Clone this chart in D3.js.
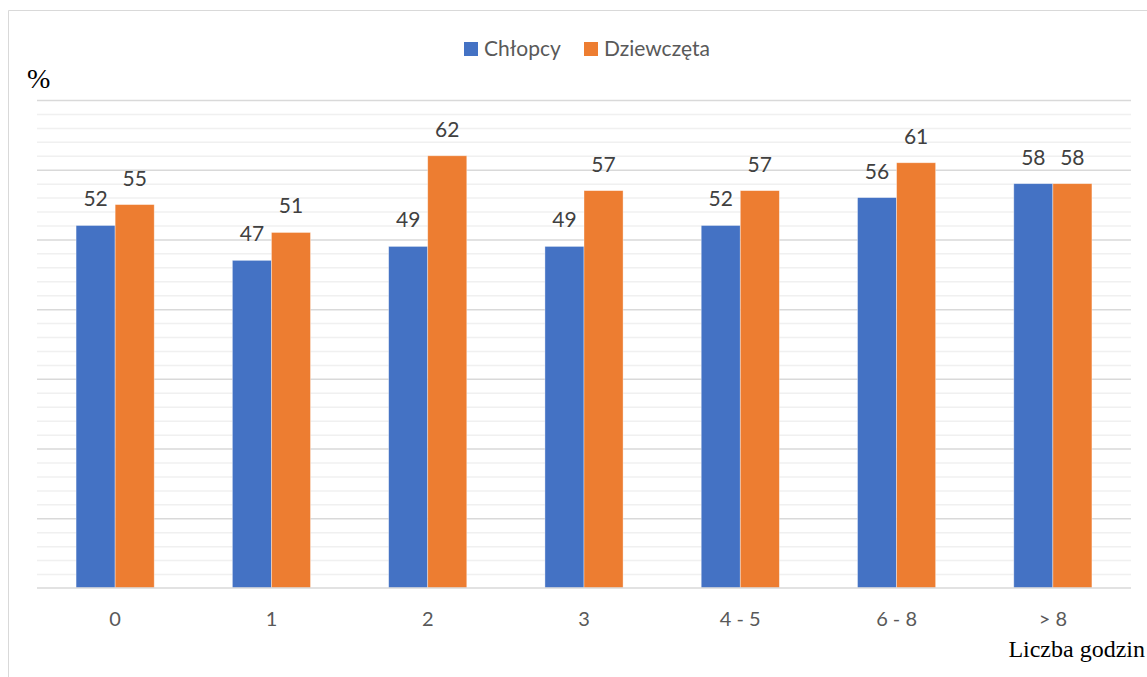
<!DOCTYPE html>
<html>
<head>
<meta charset="utf-8">
<script src="https://cdn.jsdelivr.net/npm/d3@7"></script>
<style>
  html, body { margin: 0; padding: 0; background: #fff; }
  svg { display: block; }
</style>
</head>
<body>
<svg id="chart" width="1147" height="677"></svg>
<script>
// Hours categories and percentages per group
const categories = ["0", "1", "2", "3", "4 - 5", "6 - 8", "> 8"];
const seriesNames = ["Chłopcy", "Dziewczęta"];
const boys = [52, 47, 49, 49, 52, 56, 58];
const girls = [55, 51, 62, 57, 57, 61, 58];
const seriesColors = ["#4472C4", "#ED7D31"];
const yMax = 70;

const sans = "Lato, 'Open Sans', sans-serif";
const serif = "'Liberation Serif', 'Times New Roman', serif";

const svg = d3.select("#chart");
const W = 1147, H = 677;
const margin = { left: 37, right: 16, top: 100, bottom: 89 };
const plotW = W - margin.left - margin.right;
const plotH = H - margin.top - margin.bottom;

// Outer chart frame
svg.append("path")
  .attr("d", `M8.5,${H} L8.5,10.5 L${W},10.5`)
  .attr("fill", "none")
  .attr("stroke", "#d9d9d9")
  .attr("stroke-width", 1);

const g = svg.append("g").attr("transform", `translate(${margin.left},${margin.top})`);

const x0 = d3.scaleBand().domain(categories).range([0, plotW]).paddingInner(0.5).paddingOuter(0.25);
const x1 = d3.scaleBand().domain(seriesNames).range([0, x0.bandwidth()]);
const y = d3.scaleLinear().domain([0, yMax]).range([plotH, 0]);

// Minor gridlines every 2 units
const minorTicks = d3.range(2, yMax + 0.1, 2).filter(v => v % 10 !== 0);
g.append("g").attr("class", "minor-grid")
  .call(d3.axisLeft(y).tickValues(minorTicks).tickSize(-plotW).tickFormat(""))
  .call(s => s.select(".domain").remove())
  .call(s => s.selectAll("line").attr("stroke", "#f0f0f0").attr("stroke-width", 1.5));

// Major gridlines every 10 units
g.append("g").attr("class", "major-grid")
  .call(d3.axisLeft(y).tickValues(d3.range(10, yMax + 0.1, 10)).tickSize(-plotW).tickFormat(""))
  .call(s => s.select(".domain").remove())
  .call(s => s.selectAll("line").attr("stroke", "#d9d9d9").attr("stroke-width", 1.5));

// Bars
const rows = categories.map((c, i) => ({ cat: c, values: [boys[i], girls[i]] }));
const groups = g.selectAll(".grp").data(rows).join("g")
  .attr("class", "grp")
  .attr("transform", d => `translate(${x0(d.cat)},0)`);

groups.selectAll("rect")
  .data(d => d.values.map((v, k) => ({ name: seriesNames[k], v, k })))
  .join("rect")
  .attr("x", d => x1(d.name))
  .attr("y", d => y(d.v))
  .attr("width", x1.bandwidth())
  .attr("height", d => plotH - y(d.v))
  .attr("fill", d => seriesColors[d.k])
  .attr("stroke", "#ffffff")
  .attr("stroke-opacity", 0.5)
  .attr("stroke-width", 0.75);

// Value labels above bars
groups.selectAll("text.val")
  .data(d => d.values.map((v, k) => ({ name: seriesNames[k], v, k })))
  .join("text")
  .attr("class", "val")
  .attr("x", d => x1(d.name) + x1.bandwidth() / 2)
  .attr("y", d => y(d.v) - 19)
  .attr("text-anchor", "middle")
  .attr("font-family", sans)
  .attr("font-size", 21)
  .attr("fill", "#404040")
  .text(d => d.v);

// Category axis along the baseline
const xAxis = g.append("g").attr("transform", `translate(0,${plotH})`)
  .call(d3.axisBottom(x0).tickSize(0).tickPadding(24));
xAxis.select(".domain").attr("stroke", "#d9d9d9").attr("stroke-width", 1.5)
  .attr("d", `M0,0H${plotW}`);
xAxis.selectAll("text")
  .attr("font-family", sans)
  .attr("font-size", 20)
  .attr("fill", "#595959");

// Axis titles
svg.append("text")
  .attr("x", 27).attr("y", 88)
  .attr("font-family", serif)
  .attr("font-size", 28)
  .attr("fill", "#000")
  .text("%");

svg.append("text")
  .attr("x", 1145).attr("y", 657)
  .attr("text-anchor", "end")
  .attr("font-family", serif)
  .attr("font-size", 24)
  .attr("fill", "#000")
  .text("Liczba godzin");

// Legend
const legendItems = [
  { name: seriesNames[0], color: seriesColors[0], x: 464 },
  { name: seriesNames[1], color: seriesColors[1], x: 584 }
];
const lg = svg.append("g").selectAll("g").data(legendItems).join("g")
  .attr("transform", d => `translate(${d.x},42)`);
lg.append("rect").attr("width", 14).attr("height", 14).attr("fill", d => d.color);
lg.append("text")
  .attr("x", 20).attr("y", 14)
  .attr("font-family", sans)
  .attr("font-size", 21)
  .attr("fill", "#595959")
  .text(d => d.name);
</script>
</body>
</html>
